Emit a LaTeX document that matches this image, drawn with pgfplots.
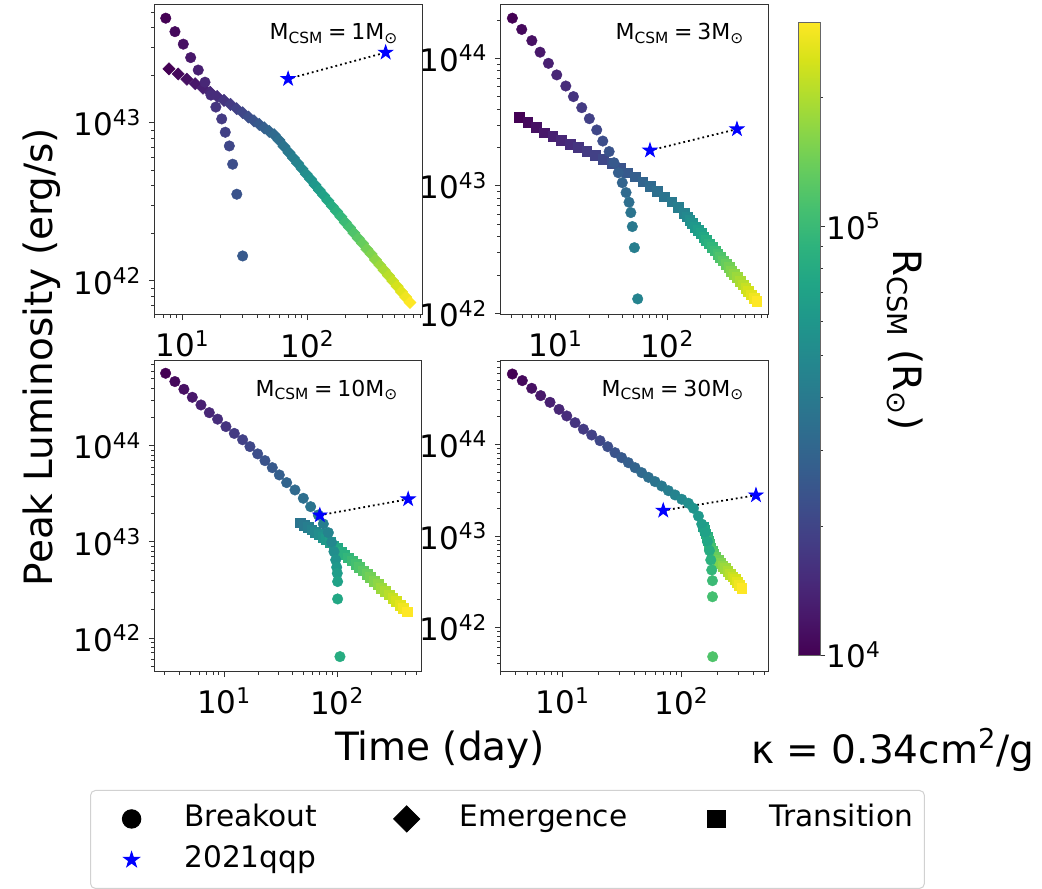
\documentclass[border=0pt]{standalone}
\usepackage{fontspec}
\setmainfont{DejaVu Sans}
\usepackage{pgfplots}
\pgfplotsset{compat=1.18}

% filled five-pointed star, like matplotlib's '*'
\pgfdeclareplotmark{fstar}{%
  \pgfpathmoveto{\pgfqpointpolar{90}{\pgfplotmarksize}}%
  \pgfpathlineto{\pgfqpointpolar{126}{0.382\pgfplotmarksize}}%
  \pgfpathlineto{\pgfqpointpolar{162}{\pgfplotmarksize}}%
  \pgfpathlineto{\pgfqpointpolar{198}{0.382\pgfplotmarksize}}%
  \pgfpathlineto{\pgfqpointpolar{234}{\pgfplotmarksize}}%
  \pgfpathlineto{\pgfqpointpolar{270}{0.382\pgfplotmarksize}}%
  \pgfpathlineto{\pgfqpointpolar{306}{\pgfplotmarksize}}%
  \pgfpathlineto{\pgfqpointpolar{342}{0.382\pgfplotmarksize}}%
  \pgfpathlineto{\pgfqpointpolar{18}{\pgfplotmarksize}}%
  \pgfpathlineto{\pgfqpointpolar{54}{0.382\pgfplotmarksize}}%
  \pgfpathclose\pgfusepathqfillstroke}
% square diamond, like matplotlib's 'D'
\pgfdeclareplotmark{dmd}{%
  \pgfpathmoveto{\pgfqpoint{0pt}{\pgfplotmarksize}}%
  \pgfpathlineto{\pgfqpoint{\pgfplotmarksize}{0pt}}%
  \pgfpathlineto{\pgfqpoint{0pt}{-\pgfplotmarksize}}%
  \pgfpathlineto{\pgfqpoint{-\pgfplotmarksize}{0pt}}%
  \pgfpathclose\pgfusepathqfillstroke}

\newcommand{\tickfont}{\fontsize{15.5}{18}\selectfont}
\newcommand{\labfont}{\fontsize{19.5}{23}\selectfont}
\newcommand{\mcsm}[1]{M\textsubscript{CSM}\hspace{0.22em}=\hspace{0.22em}#1M\textsubscript{⊙}}

\pgfplotsset{
  lumpanel/.style={
    scale only axis, width=134pt, anchor=north west,
    enlargelimits=false,
    axis line style={black!80, line width=0.5pt},
    tick align=outside, tick style={black!80, line width=0.5pt},
    major tick length=2.6pt, minor tick length=1.5pt,
    xtick pos=left, ytick pos=left,
    xtick={10,100}, xticklabels={10\textsuperscript{1},10\textsuperscript{2}},
    minor xtick={2,3,4,5,6,7,8,9,20,30,40,50,60,70,80,90,200,300,400,500,600,700,800,900},
    ytick={1e42,1e43,1e44},
    yticklabels={10\textsuperscript{42},10\textsuperscript{43},10\textsuperscript{44}},
    minor ytick={2e41,3e41,4e41,5e41,6e41,7e41,8e41,9e41,
                 2e42,3e42,4e42,5e42,6e42,7e42,8e42,9e42,
                 2e43,3e43,4e43,5e43,6e43,7e43,8e43,9e43,
                 2e44,3e44,4e44,5e44,6e44,7e44,8e44,9e44},
    tick label style={font=\tickfont},
    xticklabel style={inner sep=0pt, anchor=north, yshift=-5pt},
    yticklabel style={inner sep=0pt, anchor=east, xshift=-3.5pt},
    colormap/viridis, point meta min=4, point meta max=5.477,
  },
  pts/.style={scatter, only marks, point meta=explicit, line width=0.2pt,
    scatter/use mapped color={draw=mapped color, fill=mapped color}},
  qqp/.style={only marks, mark=fstar, mark size=3.7pt, blue},
  link/.style={black, line width=0.9pt, dash pattern=on 0.9pt off 1.55pt},
}
\tikzset{ann/.style={anchor=base east, font=\fontsize{11}{13}\selectfont}}

\begin{document}
\begin{tikzpicture}
\path[use as bounding box] (0,0) rectangle (521pt,-444pt);

% ---------------- M_CSM = 1
\begin{axis}[xmode=log, ymode=log, lumpanel, at={(77pt,-2.5pt)}, height=155pt,
  xmin=5.92, xmax=824, ymin=6.1e41, ymax=5.58e43]
\addplot[pts, mark=dmd, mark size=3.1pt] coordinates {
(7.80,2.20e43)[4.000] (9.25,2.04e43)[4.031] (10.86,1.89e43)[4.063] (12.65,1.77e43)[4.094]
(14.59,1.66e43)[4.126] (16.67,1.56e43)[4.157] (18.97,1.47e43)[4.189] (21.48,1.39e43)[4.220]
(24.21,1.31e43)[4.251] (27.16,1.23e43)[4.283] (30.34,1.16e43)[4.314] (33.73,1.09e43)[4.346]
(37.33,1.03e43)[4.377] (41.11,9.79e42)[4.409] (45.08,9.31e42)[4.440] (49.43,8.85e42)[4.472]
(54.08,8.43e42)[4.503] (59.16,7.78e42)[4.534] (64.86,7.10e42)[4.566] (71.12,6.49e42)[4.597]
(77.09,6.00e42)[4.629] (83.37,5.56e42)[4.660] (90.36,5.13e42)[4.691] (97.72,4.75e42)[4.723]
(105.9,4.40e42)[4.754] (114.8,4.06e42)[4.786] (124.2,3.76e42)[4.817] (134.6,3.48e42)[4.849]
(145.5,3.22e42)[4.880] (157.8,2.97e42)[4.911] (171.0,2.75e42)[4.943] (184.9,2.55e42)[4.974]
(200.4,2.35e42)[5.006] (216.8,2.18e42)[5.037] (235.0,2.01e42)[5.069] (254.7,1.86e42)[5.100]
(275.4,1.73e42)[5.132] (298.5,1.59e42)[5.163] (322.8,1.48e42)[5.194] (349.9,1.36e42)[5.226]
(379.3,1.26e42)[5.257] (410.2,1.17e42)[5.289] (444.6,1.08e42)[5.320] (480.8,1.00e42)[5.351]
(521.2,9.25e41)[5.383] (564.9,8.53e41)[5.414] (610.9,7.91e41)[5.446] (660.7,7.31e41)[5.477]
};
\addplot[pts, mark=*, mark size=2.65pt] coordinates {
(7.35,4.60e43)[4.000] (8.71,3.78e43)[4.031] (10.15,3.15e43)[4.063] (11.63,2.59e43)[4.094]
(13.37,2.16e43)[4.126] (15.14,1.81e43)[4.157] (16.9,1.50e43)[4.189] (18.5,1.26e43)[4.220]
(20.6,1.06e43)[4.251] (22.0,8.73e42)[4.283] (23.7,7.15e42)[4.314] (25.2,5.48e42)[4.346]
(27.2,3.54e42)[4.377] (30.3,1.44e42)[4.409]
};
\addplot[qqp] coordinates {(70,1.90e43) (422,2.79e43)};
\addplot[link] coordinates {(70,1.90e43) (422,2.79e43)};
\node[ann] at (rel axis cs:0.938,0.887) {\mcsm{1}};
\end{axis}

% ---------------- M_CSM = 3
\begin{axis}[xmode=log, ymode=log, lumpanel, at={(250pt,-2.5pt)}, height=155pt,
  xmin=3.16, xmax=801, ymin=9.73e41, ymax=2.63e44,
  colorbar, colorbar/width=11pt,
  colorbar shift/.style={xshift=15pt},
  colorbar style={
    at={(parent axis.north east)}, anchor=north west, yshift=-8.5pt,
    width=11pt, height=316.5pt, scale only axis,
    axis line style={black!60, line width=0.4pt},
    ytick={4,5}, yticklabels={10\textsuperscript{4},10\textsuperscript{5}},
    minor ytick={4.301,4.477,4.602,4.699,4.778,4.845,4.903,4.954,5.301},
    ytick pos=right, yticklabel pos=right,
    tick align=outside, tick style={black!80, line width=0.5pt},
    major tick length=2.6pt, minor tick length=1.5pt,
    yticklabel style={font=\tickfont, inner sep=0pt, anchor=west, xshift=0.5pt},
  }]
\addplot[pts, mark=square*, mark size=2.45pt] coordinates {
(4.72,3.46e43)[4.000] (5.61,3.14e43)[4.031] (6.65,2.87e43)[4.063] (7.91,2.62e43)[4.094]
(9.40,2.44e43)[4.126] (11.17,2.30e43)[4.157] (13.43,2.13e43)[4.189] (15.96,2.00e43)[4.220]
(18.97,1.86e43)[4.251] (22.49,1.74e43)[4.283] (26.73,1.62e43)[4.314] (31.77,1.51e43)[4.346]
(37.76,1.38e43)[4.377] (43.85,1.27e43)[4.409] (51.40,1.18e43)[4.440] (60.26,1.08e43)[4.472]
(70.15,9.89e42)[4.503] (81.47,9.04e42)[4.534] (94.19,8.24e42)[4.566] (109.6,7.53e42)[4.597]
(125.9,6.81e42)[4.629] (141.6,6.11e42)[4.660] (150.0,5.74e42)[4.691] (158.9,5.41e42)[4.723]
(168.3,5.08e42)[4.754] (178.2,4.78e42)[4.786] (188.8,4.50e42)[4.817] (200.0,4.23e42)[4.849]
(211.8,3.97e42)[4.880] (224.9,3.74e42)[4.911] (238.2,3.52e42)[4.943] (252.3,3.31e42)[4.974]
(267.3,3.11e42)[5.006] (283.1,2.92e42)[5.037] (299.9,2.75e42)[5.069] (317.7,2.59e42)[5.100]
(336.5,2.43e42)[5.132] (356.5,2.29e42)[5.163] (377.6,2.15e42)[5.194] (399.9,2.02e42)[5.226]
(423.6,1.91e42)[5.257] (448.7,1.79e42)[5.289] (476.4,1.68e42)[5.320] (504.7,1.58e42)[5.351]
(534.6,1.49e42)[5.383] (566.2,1.40e42)[5.414] (599.8,1.32e42)[5.446] (635.3,1.24e42)[5.477]
};
\addplot[pts, mark=*, mark size=2.65pt] coordinates {
(4.08,2.07e44)[4.000] (4.95,1.69e44)[4.031] (6.10,1.38e44)[4.063] (7.23,1.12e44)[4.094]
(8.59,9.16e43)[4.126] (10.2,7.43e43)[4.157] (12.3,6.08e43)[4.189] (14.4,5.02e43)[4.220]
(17.1,4.11e43)[4.251] (20.0,3.37e43)[4.283] (23.3,2.75e43)[4.314] (26.4,2.25e43)[4.346]
(30.1,1.86e43)[4.377] (33.3,1.52e43)[4.409] (36.4,1.27e43)[4.440] (39.5,1.06e43)[4.472]
(42.7,8.87e42)[4.503] (45.4,7.45e42)[4.534] (47.1,6.18e42)[4.566] (48.6,4.80e42)[4.597]
(50.7,3.28e42)[4.629] (54.3,1.30e42)[4.660]
};
\addplot[qqp] coordinates {(70,1.90e43) (422,2.79e43)};
\addplot[link] coordinates {(70,1.90e43) (422,2.79e43)};
\node[ann] at (rel axis cs:0.938,0.887) {\mcsm{3}};
\end{axis}

% ---------------- M_CSM = 10
\begin{axis}[xmode=log, ymode=log, lumpanel, at={(77pt,-180.5pt)}, height=155.5pt,
  xmin=2.40, xmax=559, ymin=4.43e41, ymax=7.67e44,
  legend columns=3, legend cell align=left,
  legend image code/.code={\path (0pt,0pt) (29pt,0pt); \path[#1] plot coordinates {(14.5pt,0pt)};},
  legend style={
    at={(-0.2388,-0.3794)}, anchor=north west,
    draw=black!18, line width=0.5pt, rounded corners=2.5pt, fill=white,
    font=\fontsize{14.8}{17}\selectfont,
    inner xsep=5.8pt, inner ysep=7pt,
    nodes={inner sep=0pt, text height=11pt, text depth=3.5pt},
    row sep=6pt,
    /tikz/every odd column/.append style={column sep=11.7pt},
    /tikz/every even column/.append style={column sep=30pt},
  }]
\addplot[pts, mark=square*, mark size=2.45pt, forget plot] coordinates {
(47.3,1.59e43)[4.566] (51.05,1.50e43)[4.597] (54.95,1.42e43)[4.629] (59.29,1.34e43)[4.660]
(63.83,1.27e43)[4.691] (68.87,1.20e43)[4.723] (74.13,1.13e43)[4.754] (79.98,1.06e43)[4.786]
(86.10,9.86e42)[4.817] (92.90,9.16e42)[4.849] (100.0,8.53e42)[4.880] (107.9,7.93e42)[4.911]
(116.1,7.38e42)[4.943] (125.3,6.87e42)[4.974] (134.9,6.38e42)[5.006] (145.5,5.90e42)[5.037]
(156.7,5.45e42)[5.069] (169.0,5.01e42)[5.100] (182.0,4.62e42)[5.132] (196.3,4.26e42)[5.163]
(211.3,3.93e42)[5.194] (228.0,3.61e42)[5.226] (245.5,3.33e42)[5.257] (264.8,3.07e42)[5.289]
(285.1,2.83e42)[5.320] (307.6,2.61e42)[5.351] (331.1,2.40e42)[5.383] (357.3,2.21e42)[5.414]
(384.6,2.04e42)[5.446] (415.0,1.88e42)[5.477]
};
\addplot[pts, mark=*, mark size=2.65pt, forget plot] coordinates {
(3.04,5.71e44)[4.000] (3.67,4.68e44)[4.031] (4.41,3.89e44)[4.063] (5.23,3.21e44)[4.094]
(6.24,2.67e44)[4.126] (7.39,2.22e44)[4.157] (8.75,1.90e44)[4.189] (10.37,1.59e44)[4.220]
(12.29,1.35e44)[4.251] (14.56,1.16e44)[4.283] (16.90,9.84e43)[4.314] (19.77,8.26e43)[4.346]
(22.93,7.03e43)[4.377] (26.61,5.94e43)[4.409] (30.69,4.99e43)[4.440] (35.63,4.15e43)[4.472]
(42.21,3.48e43)[4.503] (50.01,2.85e43)[4.534] (58.06,2.33e43)[4.566] (67.88,1.91e43)[4.597]
(75.16,1.54e43)[4.629] (83.24,1.25e43)[4.660] (88.98,9.93e42)[4.691] (93.33,7.93e42)[4.723]
(96.61,6.50e42)[4.754] (98.6,5.45e42)[4.786] (99.8,4.72e42)[4.817] (100.5,3.87e42)[4.849]
(100.5,2.55e42)[4.880] (105.4,6.40e41)[4.911]
};
\addplot[qqp, forget plot] coordinates {(70,1.90e43) (422,2.79e43)};
\addplot[link, forget plot] coordinates {(70,1.90e43) (422,2.79e43)};
\node[ann] at (rel axis cs:0.938,0.887) {\mcsm{10}};
\addlegendimage{mark=*, mark size=4.6pt, black}
\addlegendentry{Breakout}
\addlegendimage{mark=dmd, mark size=6.5pt, black}
\addlegendentry{Emergence}
\addlegendimage{mark=square*, mark size=4.4pt, black}
\addlegendentry{Transition}
\addlegendimage{mark=fstar, mark size=4pt, blue}
\addlegendentry{2021qqp}
\end{axis}

% ---------------- M_CSM = 30
\begin{axis}[xmode=log, ymode=log, lumpanel, at={(250pt,-180.5pt)}, height=155.5pt,
  xmin=2.96, xmax=533, ymin=3.27e41, ymax=8.18e44]
\addplot[pts, mark=square*, mark size=2.45pt] coordinates {
(152.4,1.265e43)[4.849] (156.0,1.159e43)[4.880] (159.6,1.062e43)[4.911] (162.9,9.70e42)[4.943]
(166.7,8.89e42)[4.974] (170.2,8.13e42)[5.006] (174.2,7.45e42)[5.037] (179.9,6.87e42)[5.069]
(186.2,6.32e42)[5.100] (193.2,5.85e42)[5.132] (202.3,5.44e42)[5.163] (211.3,5.07e42)[5.194]
(221.3,4.72e42)[5.226] (232.3,4.41e42)[5.257] (243.8,4.12e42)[5.289] (256.4,3.85e42)[5.320]
(269.2,3.60e42)[5.351] (281.2,3.35e42)[5.383] (293.8,3.11e42)[5.414] (306.9,2.89e42)[5.446]
(320.6,2.68e42)[5.477]
};
\addplot[pts, mark=*, mark size=2.65pt] coordinates {
(3.76,5.89e44)[4.000] (4.56,4.99e44)[4.031] (5.47,4.11e44)[4.063] (6.51,3.42e44)[4.094]
(7.80,2.89e44)[4.126] (9.29,2.42e44)[4.157] (10.79,2.05e44)[4.189] (12.68,1.73e44)[4.220]
(14.89,1.47e44)[4.251] (17.50,1.27e44)[4.283] (20.56,1.10e44)[4.314] (23.88,9.46e43)[4.346]
(27.48,8.14e43)[4.377] (31.27,7.18e43)[4.409] (35.61,6.33e43)[4.440] (40.53,5.58e43)[4.472]
(46.13,4.92e43)[4.503] (52.50,4.38e43)[4.534] (59.72,3.93e43)[4.566] (67.95,3.52e43)[4.597]
(77.33,3.13e43)[4.629] (87.96,2.81e43)[4.660] (100.2,2.52e43)[4.691] (114.0,2.28e43)[4.723]
(125.6,2.01e43)[4.754] (138.4,1.65e43)[4.786] (147.6,1.35e43)[4.817] (157.5,1.09e43)[4.849]
(164.8,8.67e42)[4.880] (171.4,6.92e42)[4.911] (175.8,5.47e42)[4.943] (179.1,4.25e42)[4.974]
(181.6,3.25e42)[5.006] (181.6,2.17e42)[5.037] (182.5,4.80e41)[5.069]
};
\addplot[qqp] coordinates {(70,1.90e43) (422,2.79e43)};
\addplot[link] coordinates {(70,1.90e43) (422,2.79e43)};
\node[ann] at (rel axis cs:0.938,0.887) {\mcsm{30}};
\end{axis}

% ---------------- shared labels
\node[rotate=90, font=\labfont] at (21pt,-178.5pt) {Peak Luminosity (erg/s)};
\node[font=\labfont] at (220pt,-375pt) {Time (day)};
\node[font=\labfont] at (446.5pt,-375pt) {κ = 0.34cm\textsuperscript{2}/g};
\node[rotate=-90, font=\labfont] at (452.5pt,-170pt) {R\textsubscript{CSM} (R\textsubscript{⊙})};
\end{tikzpicture}
\end{document}
